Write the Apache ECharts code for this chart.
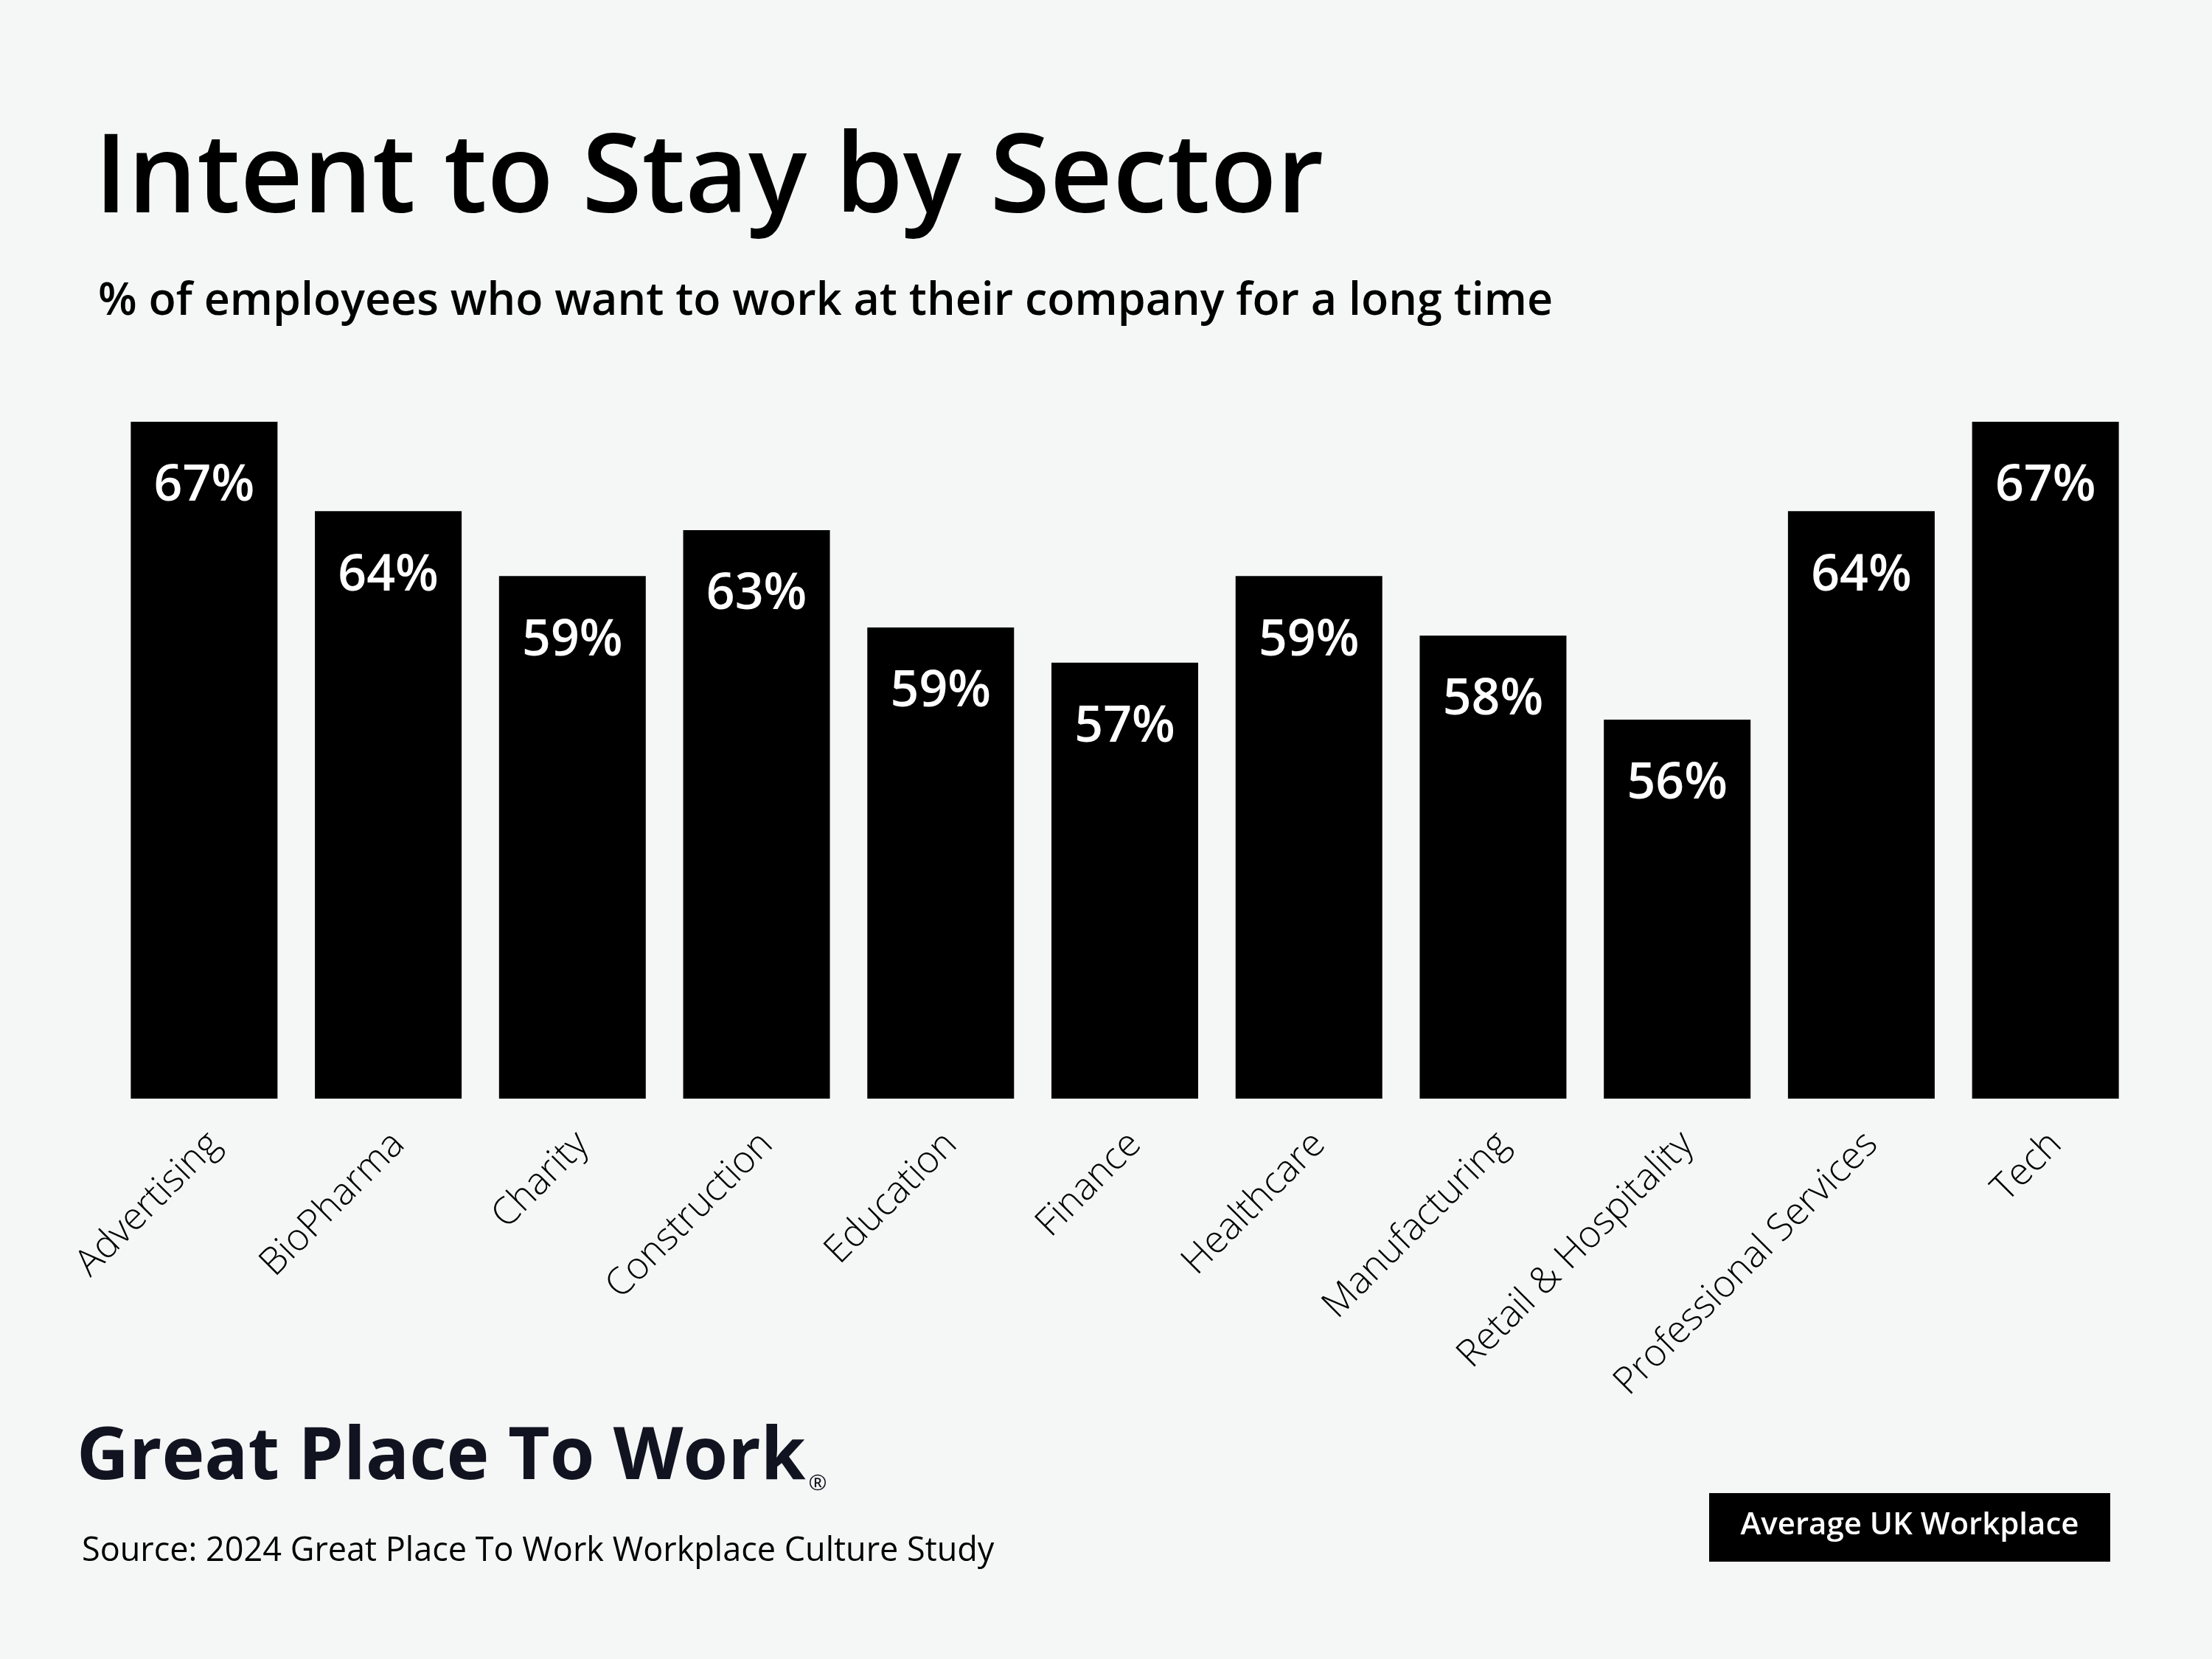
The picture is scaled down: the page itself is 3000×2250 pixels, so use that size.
<!DOCTYPE html>
<html><head><meta charset="utf-8">
<script src="https://cdn.jsdelivr.net/npm/echarts@6/dist/echarts.min.js"></script>
<style>html,body{margin:0;padding:0;background:#f5f7f6}#c{width:3000px;height:2250px}</style>
</head><body><div id="c"></div>
<script>
const categories = ['Advertising', 'BioPharma', 'Charity', 'Construction', 'Education', 'Finance', 'Healthcare', 'Manufacturing', 'Retail & Hospitality', 'Professional Services', 'Tech'];
const barValues = [67, 63.7, 61.3, 63.0, 59.4, 58.1, 61.3, 59.1, 56.0, 63.7, 67];
const valueLabels = ['67%', '64%', '59%', '63%', '59%', '57%', '59%', '58%', '56%', '64%', '67%'];
const titleText = 'Intent to Stay by Sector';
const subtitleText = '% of employees who want to work at their company for a long time';
const logoText = 'Great Place To Work';
const sourceText = 'Source: 2024 Great Place To Work Workplace Culture Study';
const legendText = 'Average UK Workplace';

const FONT = '"Open Sans", "Noto Sans", sans-serif';
const chart = echarts.init(document.getElementById('c'), null, {renderer: 'canvas'});
chart.setOption({
  backgroundColor: '#f5f7f6',
  animation: false,
  grid: [
    {left: 152, right: 101, top: 572, bottom: 760},
    {left: 152 + 14, right: 101 - 14, top: 572, bottom: 760}
  ],
  xAxis: [
    {type: 'category', gridIndex: 0, data: categories, axisLine: {show: false}, axisTick: {show: false}, axisLabel: {show: false}},
    {type: 'category', gridIndex: 1, data: categories, axisLine: {show: false}, axisTick: {show: false},
      axisLabel: {rotate: 45, margin: 54, fontSize: 51, fontFamily: FONT, fontWeight: 300, color: '#000', interval: 0}}
  ],
  yAxis: [
    {type: 'value', gridIndex: 0, min: 42, max: 67, show: false},
    {type: 'value', gridIndex: 1, min: 0, max: 1, show: false}
  ],
  series: [{
    type: 'bar', xAxisIndex: 0, yAxisIndex: 0,
    data: barValues, barWidth: 199,
    itemStyle: {color: '#000'},
    label: {show: true, position: 'insideTop', distance: 54, color: '#fff', fontSize: 68, fontFamily: FONT, fontWeight: 600,
      formatter: p => valueLabels[p.dataIndex]}
  }],
  graphic: [
    {type: 'text', x: 128, y: 246, style: {text: titleText, fontSize: 148, fontFamily: FONT, fontWeight: 600, fill: '#000', verticalAlign: 'middle'}},
    {type: 'text', x: 133, y: 410, style: {text: subtitleText, fontSize: 61, fontFamily: FONT, fontWeight: 600, fill: '#000', verticalAlign: 'middle'}},
    {type: 'text', x: 104, y: 1972, style: {
      text: '{a|' + logoText + '}{r|®}', verticalAlign: 'middle',
      rich: {
        a: {fontSize: 98, fontFamily: FONT, fontWeight: 'bold', fill: '#111420', verticalAlign: 'bottom', lineHeight: 110},
        r: {fontSize: 30, fontFamily: FONT, fill: '#111420', verticalAlign: 'bottom', lineHeight: 70, padding: [0, 0, 0, 4]}
      }}},
    {type: 'text', x: 111, y: 2104, style: {text: sourceText, fontSize: 45, fontFamily: FONT, fill: '#000', verticalAlign: 'middle'}},
    {type: 'rect', shape: {x: 2318, y: 2025, width: 544, height: 93}, style: {fill: '#000'}},
    {type: 'text', x: 2590, y: 2069, style: {text: legendText, fontSize: 42, fontFamily: FONT, fontWeight: 600, fill: '#fff', align: 'center', verticalAlign: 'middle'}}
  ]
});
</script></body></html>
